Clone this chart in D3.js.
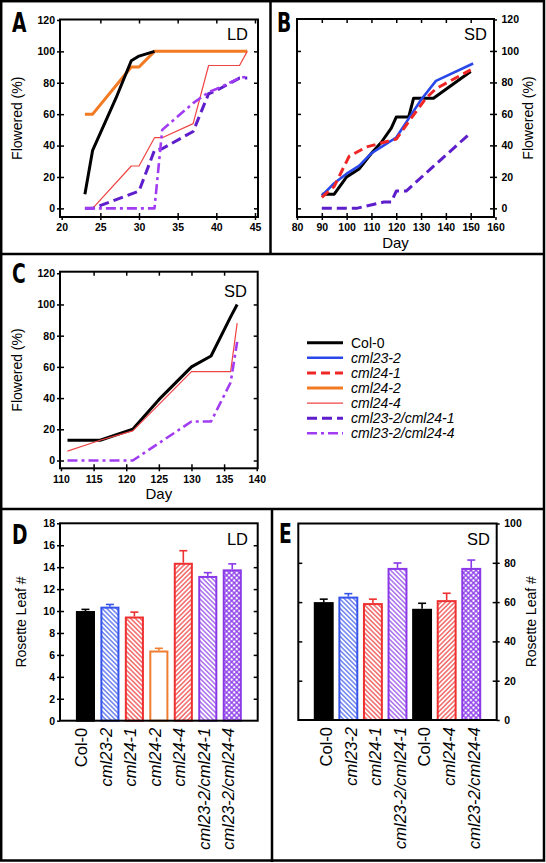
<!DOCTYPE html>
<html><head><meta charset="utf-8">
<script src="https://cdn.jsdelivr.net/npm/d3@7/dist/d3.min.js"></script>
<style>body{margin:0;background:#fff} svg{display:block}</style>
</head><body><svg id="c" width="546" height="863"></svg>
<script>
// ---------------- DATA ----------------
const genotypes = ["Col-0","cml23-2","cml24-1","cml24-2","cml24-4","cml23-2/cml24-1","cml23-2/cml24-4"];

// Panel A (LD) [day, % flowered]
const A_col0   = [[23,9],[24,37],[27,70],[29,94],[30,97],[32,100]];
const A_cml24_2 = [[23,60],[24,60],[29,90],[30,90],[32,100],[44,100]];
const A_cml24_4 = [[24,0],[29,27],[30,27],[32,45],[33,45],[37,54],[39,91],[43,91],[44,100]];
const A_dbl1   = [[23,0],[24,0],[30,11],[32,37],[33,38],[37,49],[39,73],[40,75],[43,83],[44,83]];
const A_dbl4   = [[23,0],[24,0],[32,0],[33,50],[37,67],[39,74],[40,76],[43,83],[44,84]];

// Panel B (SD)
const B_col0   = [[90,9],[95,9],[100,20],[105,25],[110,35],[114,42],[118,51],[120,58],[125,58],[127,70],[135,70],[150,87]];
const B_cml23_2 = [[90,8],[95,16],[100,22],[105,27],[110,35],[115,40],[120,45],[125,57],[130,69],[136,81],[151,92]];
const B_cml24_1 = [[90,7],[95,14],[101,33],[108,39],[120,44],[125,55],[132,70],[136,76],[150,88]];
const B_dbl1   = [[90,0],[104,0],[115,4],[118,4],[120,11],[124,11],[150,48]];

// Panel C (SD)
const C_col0   = [[111,13],[116,13],[121,20],[125,39],[130,60],[133,67],[136,92],[137,100]];
const C_cml24_4 = [[111,6],[116,13],[121,19],[130,57],[136,57],[137,88]];
const C_dbl4   = [[111,0],[121,0],[130,25],[133,25],[136,50],[137,76]];

// Panel D (LD) rosette leaf number
const D_cats = ["Col-0","cml23-2","cml24-1","cml24-2","cml24-4","cml23-2/cml24-1","cml23-2/cml24-4"];
const D_vals = [10.0,10.4,9.5,6.4,14.4,13.2,13.8];
const D_errs = [0.15,0.2,0.4,0.2,1.1,0.3,0.5];

// Panel E (SD) rosette leaf number
const E_cats = ["Col-0","cml23-2","cml24-1","cml23-2/cml24-1","Col-0","cml24-4","cml23-2/cml24-4"];
const E_vals = [60.0,62.8,59.5,77.4,56.6,61.0,77.4];
const E_errs = [1.5,1.5,2.0,2.5,2.8,3.5,4.0];

// tick labels
const ticksA_x = [20,25,30,35,40,45];
const ticksB_x = [80,90,100,110,120,130,140,150,160];
const ticksC_x = [110,115,120,125,130,135,140];
const ticksPct = [0,20,40,60,80,100,120];
const ticksD_y = [0,2,4,6,8,10,12,14,16,18];
const ticksE_y = [0,20,40,60,80,100];

// ---------------- STYLES ----------------
const FONT = '"Liberation Sans", Arial, Helvetica, sans-serif';
const lineStyle = {
  "Col-0":            {color:"#000000", w:3,   dash:null},
  "cml23-2":          {color:"#2a48ea", w:2.6, dash:null},
  "cml24-1":          {color:"#ee2626", w:3,   dash:"9,5"},
  "cml24-2":          {color:"#f27a22", w:3,   dash:null},
  "cml24-4":          {color:"#f04444", w:1.2, dash:null},
  "cml23-2/cml24-1":  {color:"#5e1ecc", w:3,   dash:"10,5"},
  "cml23-2/cml24-4":  {color:"#a23cf2", w:2.6, dash:"10,4,3,4"}
};
const barColor = {blue:"#3654ea", red:"#ee3030", orange:"#f07e30", purple:"#8a38e8"};

const svg = d3.select("#c");
svg.append("rect").attr("width",546).attr("height",863).attr("fill","#fff");
const defs = svg.append("defs");

function hatch(id, color, angle, sp, sw){
  const p = defs.append("pattern").attr("id",id).attr("patternUnits","userSpaceOnUse")
    .attr("width",sp).attr("height",sp).attr("patternTransform",`rotate(${angle})`);
  p.append("rect").attr("width",sp).attr("height",sp).attr("fill","#fff");
  p.append("line").attr("x1",sp/2).attr("x2",sp/2).attr("y1",-1).attr("y2",sp+1)
    .attr("stroke",color).attr("stroke-width",sw);
}
function cross(id, color, sp, sw){
  const p = defs.append("pattern").attr("id",id).attr("patternUnits","userSpaceOnUse")
    .attr("width",sp).attr("height",sp).attr("patternTransform","rotate(45)");
  p.append("rect").attr("width",sp).attr("height",sp).attr("fill","#fff");
  p.append("line").attr("x1",sp/2).attr("x2",sp/2).attr("y1",-1).attr("y2",sp+1).attr("stroke",color).attr("stroke-width",sw);
  p.append("line").attr("y1",sp/2).attr("y2",sp/2).attr("x1",-1).attr("x2",sp+1).attr("stroke",color).attr("stroke-width",sw);
}
hatch("hBlueB", barColor.blue, -45, 3.3, 1.1);
hatch("hRedB", barColor.red, -45, 3.3, 1.1);
hatch("hRedF", barColor.red, 45, 3.3, 1.1);
hatch("hPurB", barColor.purple, -45, 3.3, 1.1);
cross("hPurX", barColor.purple, 3.6, 1.3);

const barStyle = {
  "Col-0":           {fill:"#000", stroke:"#000"},
  "cml23-2":         {fill:"url(#hBlueB)", stroke:barColor.blue},
  "cml24-1":         {fill:"url(#hRedB)", stroke:barColor.red},
  "cml24-2":         {fill:"#fff", stroke:barColor.orange},
  "cml24-4":         {fill:"url(#hRedF)", stroke:barColor.red},
  "cml23-2/cml24-1": {fill:"url(#hPurB)", stroke:barColor.purple},
  "cml23-2/cml24-4": {fill:"url(#hPurX)", stroke:barColor.purple}
};

function axis(g, gen, tx, ty){
  const a = g.append("g").attr("transform",`translate(${tx},${ty})`).call(gen);
  a.select(".domain").remove();
  a.selectAll(".tick line").attr("stroke","#000").attr("stroke-width",1.5);
  a.selectAll(".tick text").attr("font-family",FONT).attr("font-weight","bold")
    .attr("font-size",10.5).attr("fill","#000");
  return a;
}
function txt(g, s, x, y, size, opts={}){
  const t = g.append("text").attr("x",x).attr("y",y).attr("font-family",opts.family||FONT)
    .attr("font-size",size).attr("fill","#000").text(s);
  if(opts.anchor) t.attr("text-anchor",opts.anchor);
  if(opts.weight) t.attr("font-weight",opts.weight);
  if(opts.style) t.attr("font-style",opts.style);
  if(opts.rot!==undefined) t.attr("transform",`rotate(${opts.rot},${x},${y})`);
  if(opts.dy) t.attr("dy",opts.dy);
  return t;
}
function panelLetter(s, x, y){
  svg.append("text").attr("font-family",'"Liberation Sans Narrow","DejaVu Sans Condensed",sans-serif')
    .attr("font-weight","bold").attr("font-size",26).attr("fill","#000")
    .attr("transform",`translate(${x},${y}) scale(0.8,1)`).text(s);
}

function linePanel(c){
  const g = svg.append("g");
  const x = d3.scaleLinear().domain(c.xd).range([c.L,c.R]);
  const y = d3.scaleLinear().domain(c.yd).range([c.B,c.T]);
  axis(g, d3.axisBottom(x).tickValues(c.xt).tickSize(3).tickPadding(4).tickFormat(d3.format("d")), 0, c.B);
  axis(g, d3.axisTop(x).tickValues(c.xt.filter(v=>x(v)>c.L+3&&x(v)<c.R-3)).tickSize(4).tickFormat(""), 0, c.B);
  axis(g, d3.axisBottom(x).tickValues(c.xt.filter(v=>x(v)>c.L+3&&x(v)<c.R-3)).tickSize(4).tickFormat(""), 0, c.T);
  const yin = c.yt.filter(v=>y(v)>c.T+3);
  if(c.side==="left"){
    axis(g, d3.axisLeft(y).tickValues(c.yt).tickSize(3).tickPadding(2), c.L, 0);
    axis(g, d3.axisRight(y).tickValues(yin).tickSize(4).tickFormat(""), c.L, 0);
    axis(g, d3.axisLeft(y).tickValues(yin).tickSize(4).tickFormat(""), c.R, 0);
  } else {
    axis(g, d3.axisRight(y).tickValues(c.yt).tickSize(3).tickPadding(4.5), c.R, 0);
    axis(g, d3.axisLeft(y).tickValues(yin).tickSize(4).tickFormat(""), c.R, 0);
    axis(g, d3.axisRight(y).tickValues(yin).tickSize(4).tickFormat(""), c.L, 0);
  }
  const line = d3.line().x(d=>x(d[0])).y(d=>y(d[1]));
  c.series.forEach(([name,data])=>{
    const s = lineStyle[name];
    g.append("path").attr("d",line(data)).attr("fill","none").attr("stroke",s.color)
      .attr("stroke-width",s.w).attr("stroke-dasharray",s.dash).attr("stroke-linejoin","round");
  });
  g.append("rect").attr("x",c.L).attr("y",c.T).attr("width",c.R-c.L).attr("height",c.B-c.T)
    .attr("fill","none").attr("stroke","#000").attr("stroke-width",2);
  txt(g, c.cond, c.condX, c.condY, 16.5, {anchor:"end"});
  txt(g, "Flowered (%)", c.ylabX, (c.T+c.B)/2, 14, {anchor:"middle", rot:-90});
  if(c.day) txt(g, "Day", (c.L+c.R)/2, c.B+30.5, 15, {anchor:"middle"});
}

function barPanel(c){
  const g = svg.append("g");
  const x = d3.scaleBand().domain(d3.range(c.cats.length)).range([c.L,c.R]).paddingInner(c.pi).paddingOuter(c.po);
  const y = d3.scaleLinear().domain(c.yd).range([c.B,c.T]);
  const yin = c.yt.filter(v=>y(v)>c.T+3 && y(v)<c.B-3);
  if(c.side==="left"){
    axis(g, d3.axisLeft(y).tickValues(c.yt).tickSize(3).tickPadding(2), c.L, 0);
    axis(g, d3.axisRight(y).tickValues(yin).tickSize(4).tickFormat(""), c.L, 0);
    axis(g, d3.axisLeft(y).tickValues(yin).tickSize(4).tickFormat(""), c.R, 0);
  } else {
    axis(g, d3.axisRight(y).tickValues(c.yt).tickSize(3).tickPadding(4.5), c.R, 0);
    axis(g, d3.axisLeft(y).tickValues(yin).tickSize(4).tickFormat(""), c.R, 0);
    axis(g, d3.axisRight(y).tickValues(yin).tickSize(4).tickFormat(""), c.L, 0);
  }
  c.cats.forEach((name,i)=>{
    const st = barStyle[name];
    const bx = x(i), bw = x.bandwidth(), cx = bx+bw/2;
    const top = y(c.vals[i]), et = y(c.vals[i]+c.errs[i]);
    g.append("line").attr("x1",cx).attr("x2",cx).attr("y1",top).attr("y2",et).attr("stroke",st.stroke).attr("stroke-width",1.6);
    g.append("line").attr("x1",cx-4).attr("x2",cx+4).attr("y1",et).attr("y2",et).attr("stroke",st.stroke).attr("stroke-width",1.6);
    g.append("rect").attr("x",bx+1).attr("y",top+1).attr("width",bw-2).attr("height",c.B-top-1)
      .attr("fill",st.fill).attr("stroke",st.stroke).attr("stroke-width",2);
    txt(g, name, cx, c.B+7, 16.5, {anchor:"end", rot:-90, dy:c.ldy, style: name==="Col-0"?"normal":"italic"});
  });
  g.append("rect").attr("x",c.L).attr("y",c.T).attr("width",c.R-c.L).attr("height",c.B-c.T)
    .attr("fill","none").attr("stroke","#000").attr("stroke-width",2);
  txt(g, c.cond, c.condX, c.condY, 16.5, {anchor:"end"});
  txt(g, "Rosette Leaf #", c.ylabX, (c.T+c.B)/2, 14, {anchor:"middle", rot:-90});
}

// ---------------- PANELS ----------------
linePanel({L:60,R:258,T:19.5,B:217,xd:[19.78,45.39],yd:[-5.5,120.3],xt:ticksA_x,yt:ticksPct,side:"left",
  series:[["cml24-2",A_cml24_2],["cml24-4",A_cml24_4],["cml23-2/cml24-1",A_dbl1],["cml23-2/cml24-4",A_dbl4],["Col-0",A_col0]],
  cond:"LD",condX:248,condY:40,ylabX:22,day:false});
linePanel({L:297,R:494,T:19,B:217,xd:[80,159.4],yd:[-5.5,120.3],xt:ticksB_x,yt:ticksPct,side:"right",
  series:[["Col-0",B_col0],["cml23-2",B_cml23_2],["cml24-1",B_cml24_1],["cml23-2/cml24-1",B_dbl1]],
  cond:"SD",condX:487,condY:40,ylabX:533,day:true});
linePanel({L:60,R:257.7,T:271.7,B:468.3,xd:[109.85,140.15],yd:[-5,121],xt:ticksC_x,yt:ticksPct,side:"left",
  series:[["Col-0",C_col0],["cml24-4",C_cml24_4],["cml23-2/cml24-4",C_dbl4]],
  cond:"SD",condX:247,condY:297,ylabX:22,day:true});

// legend
const lg = svg.append("g");
genotypes.forEach((name,i)=>{
  const yy = 342.7 + i*15.1, s = lineStyle[name];
  lg.append("line").attr("x1",307).attr("x2",343).attr("y1",yy).attr("y2",yy).attr("stroke",s.color)
    .attr("stroke-width",Math.max(s.w,1.3)).attr("stroke-dasharray",s.dash);
  txt(lg, name, 351, yy, 14, {dy:"0.36em", style:name==="Col-0"?"normal":"italic"});
});

barPanel({L:60,R:257.7,T:523.3,B:720.7,yd:[0,18],yt:ticksD_y,side:"left",cats:D_cats,vals:D_vals,errs:D_errs,
  pi:0.22,po:0.65,ldy:"0.12em",cond:"LD",condX:248,condY:545,ylabX:26});
barPanel({L:298.3,R:496.7,T:523.5,B:720,yd:[0,100],yt:ticksE_y,side:"right",cats:E_cats,vals:E_vals,errs:E_errs,
  pi:0.19,po:0.63,ldy:"0.5em",cond:"SD",condX:490,condY:545,ylabX:536});

// panel letters
panelLetter("A",12,32); panelLetter("B",277,32); panelLetter("C",12,283);
panelLetter("D",12,544); panelLetter("E",279,543);

// borders
const bd = svg.append("g").attr("stroke","#000").attr("stroke-width",2.5).attr("fill","none");
bd.append("rect").attr("x",1.2).attr("y",1.2).attr("width",542.8).attr("height",859.3);
bd.append("line").attr("x1",270.5).attr("x2",270.5).attr("y1",0).attr("y2",254);
bd.append("line").attr("x1",0).attr("x2",545).attr("y1",254).attr("y2",254);
bd.append("line").attr("x1",0).attr("x2",545).attr("y1",509).attr("y2",509);
bd.append("line").attr("x1",272).attr("x2",272).attr("y1",509).attr("y2",862);
</script></body></html>
